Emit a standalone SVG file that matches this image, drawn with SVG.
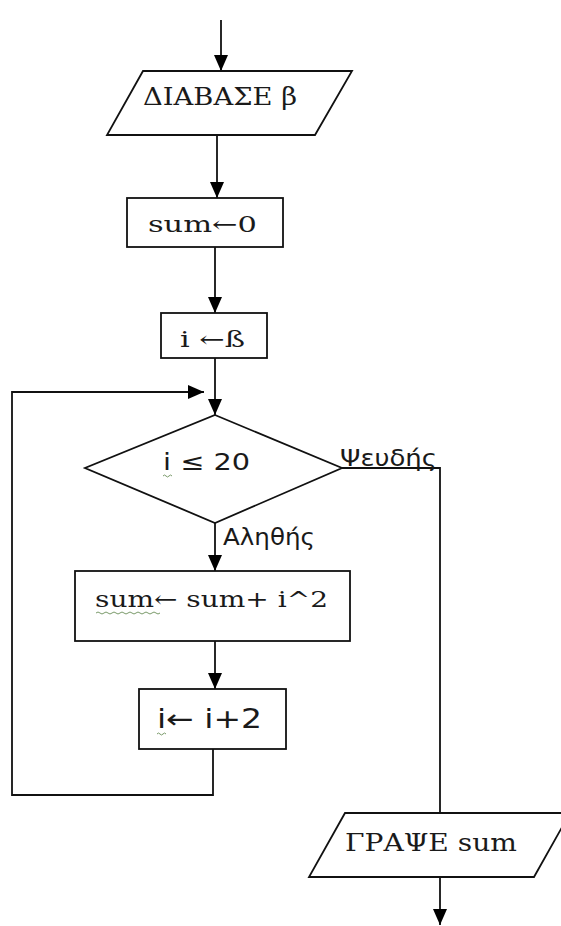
<svg xmlns="http://www.w3.org/2000/svg" width="561" height="926" viewBox="0 0 561 926">
<defs>
<marker id="ah" markerWidth="16" markerHeight="14" refX="16" refY="7" orient="auto" markerUnits="userSpaceOnUse">
<path d="M0,0 L16,7 L0,14 Z" fill="#000"/>
</marker>
<style>
.shape{fill:#fff;stroke:#111;stroke-width:1.8}
.conn{fill:none;stroke:#111;stroke-width:1.8}
.serif{font-family:"DejaVu Serif","Liberation Serif",serif;fill:#1a1a1a}
.sans{font-family:"DejaVu Sans","Liberation Sans",sans-serif;fill:#1a1a1a}
.sq{fill:none;stroke:#7a9a6a;stroke-width:1}
</style>
</defs>
<rect width="561" height="926" fill="#fff"/>
<g id="connectors">
<line class="conn" x1="221" y1="20" x2="221" y2="71" marker-end="url(#ah)"/>
<line class="conn" x1="217" y1="135" x2="217" y2="198" marker-end="url(#ah)"/>
<line class="conn" x1="215" y1="247" x2="215" y2="313" marker-end="url(#ah)"/>
<line class="conn" x1="215" y1="358" x2="215" y2="415" marker-end="url(#ah)"/>
<line class="conn" x1="215" y1="523" x2="215" y2="571" marker-end="url(#ah)"/>
<line class="conn" x1="215" y1="641" x2="215" y2="689" marker-end="url(#ah)"/>
<polyline class="conn" points="213,749 213,795 12,795 12,392 204,392" marker-end="url(#ah)"/>
<polyline class="conn" points="342,468 440,468 440,813"/>
<line class="conn" x1="440" y1="877" x2="440" y2="925" marker-end="url(#ah)"/>
</g>
<g id="read">
<polygon class="shape" points="143,71 352,71 315,135 107,135"/>
<text class="serif" x="143" y="105" font-size="24" textLength="154" lengthAdjust="spacingAndGlyphs">ΔΙΑΒΑΣΕ β</text>
</g>
<g id="init-sum">
<rect class="shape" x="127" y="198" width="156" height="49"/>
<text class="serif" x="148" y="232" font-size="22" textLength="109" lengthAdjust="spacingAndGlyphs">sum←0</text>
</g>
<g id="init-i">
<rect class="shape" x="161" y="313" width="106" height="45"/>
<text class="serif" x="180" y="347" font-size="22" textLength="65" lengthAdjust="spacingAndGlyphs">i ←ß</text>
</g>
<g id="decision">
<polygon class="shape" points="215,415 342,468 215,523 85,468"/>
<text class="sans" x="163" y="470" font-size="23" textLength="87" lengthAdjust="spacingAndGlyphs">i ≤ 20</text>
<path class="sq" d="M163,476 q1.5,-2 3,0 t3,0 t3,0"/>
<text class="sans" x="340" y="466" font-size="23" textLength="97" lengthAdjust="spacingAndGlyphs">Ψευδής</text>
<text class="sans" x="223" y="545" font-size="23" textLength="92" lengthAdjust="spacingAndGlyphs">Αληθής</text>
</g>
<g id="accumulate">
<rect class="shape" x="75" y="571" width="275" height="70"/>
<text class="serif" x="95" y="607" font-size="23" textLength="233" lengthAdjust="spacingAndGlyphs">sum← sum+ i^2</text>
<path class="sq" d="M96,613 q2,-2 4,0 t4,0 t4,0 t4,0 t4,0 t4,0 t4,0 t4,0 t4,0 t4,0 t4,0 t4,0 t4,0 t4,0 t4,0 t4,0"/>
</g>
<g id="increment">
<rect class="shape" x="139" y="689" width="147" height="60"/>
<text class="sans" x="157" y="728" font-size="26" textLength="105" lengthAdjust="spacingAndGlyphs">i← i+2</text>
<path class="sq" d="M157,734 q1.5,-2 3,0 t3,0 t3,0"/>
</g>
<g id="write">
<polygon class="shape" points="345,813 570,813 534,877 309,877"/>
<text class="serif" x="345" y="851" font-size="24" textLength="172" lengthAdjust="spacingAndGlyphs">ΓΡΑΨΕ sum</text>
</g>
</svg>
